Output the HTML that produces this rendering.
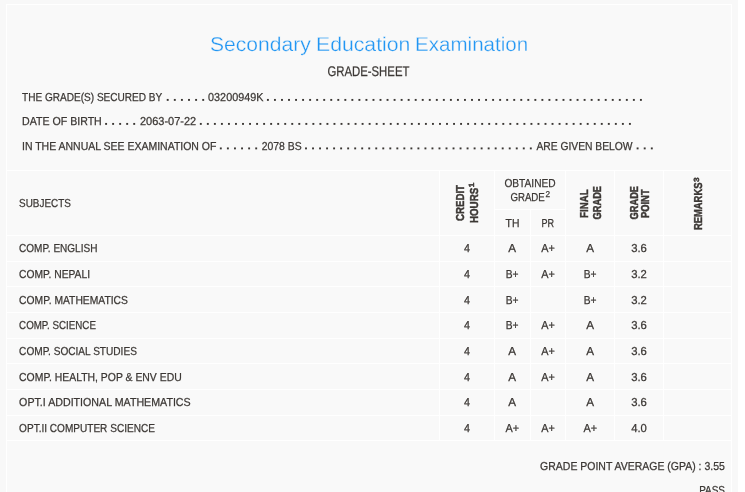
<!DOCTYPE html>
<html lang="en">
<head>
<meta charset="utf-8">
<title>Secondary Education Examination - Grade-Sheet</title>
<style>
html,body{margin:0;padding:0;background:#ffffff;overflow:hidden;}
body{width:745px;height:492px;font-family:'Liberation Sans', sans-serif;}
svg{display:block;font-family:"Liberation Sans",sans-serif;will-change:transform;opacity:0.999;}
svg text{font-family:"Liberation Sans",sans-serif;stroke:#3b3734;stroke-width:0.25px;}
svg g text{stroke-width:0.45px;}
svg text.t{stroke:#f9f9f9;stroke-width:0.3px;}
</style>
</head>
<body>
<svg width="745" height="492" viewBox="0 0 745 492" shape-rendering="crispEdges" text-rendering="geometricPrecision">
<rect x="0" y="0" width="745" height="492" fill="#ffffff"/>
<rect x="0" y="0" width="738" height="492" fill="#f8f8f8"/>
<rect x="6" y="4" width="726" height="488" fill="#f9f9f9"/>
<rect x="6" y="4" width="726" height="1" fill="#ffffff"/>
<rect x="6" y="4" width="1" height="488" fill="#ffffff"/>
<rect x="731" y="4" width="1" height="488" fill="#ffffff"/>
<text x="210" y="50.6" font-size="20" fill="#2196f3" text-anchor="start" font-weight="normal" textLength="100.8" lengthAdjust="spacingAndGlyphs" class="t">Secondary</text>
<text x="316" y="50.6" font-size="20" fill="#2196f3" text-anchor="start" font-weight="normal" textLength="94.4" lengthAdjust="spacingAndGlyphs" class="t">Education</text>
<text x="415" y="50.6" font-size="20" fill="#2196f3" text-anchor="start" font-weight="normal" textLength="113.2" lengthAdjust="spacingAndGlyphs" class="t">Examination</text>
<text x="327.4" y="76" font-size="14" fill="#3b3734" text-anchor="start" font-weight="normal" textLength="82" lengthAdjust="spacingAndGlyphs">GRADE-SHEET</text>
<text x="22" y="101.0" font-size="11.5" fill="#3b3734" text-anchor="start" font-weight="normal" textLength="140.3" lengthAdjust="spacingAndGlyphs">THE GRADE(S) SECURED BY</text>
<rect x="166.75" y="98.95" width="1.9" height="1.9" fill="#3b3734" shape-rendering="geometricPrecision"/>
<rect x="173.85" y="98.95" width="1.9" height="1.9" fill="#3b3734" shape-rendering="geometricPrecision"/>
<rect x="180.95" y="98.95" width="1.9" height="1.9" fill="#3b3734" shape-rendering="geometricPrecision"/>
<rect x="188.05" y="98.95" width="1.9" height="1.9" fill="#3b3734" shape-rendering="geometricPrecision"/>
<rect x="195.15" y="98.95" width="1.9" height="1.9" fill="#3b3734" shape-rendering="geometricPrecision"/>
<rect x="202.25" y="98.95" width="1.9" height="1.9" fill="#3b3734" shape-rendering="geometricPrecision"/>
<text x="208.1" y="101.0" font-size="11.5" fill="#3b3734" text-anchor="start" font-weight="normal" textLength="55.3" lengthAdjust="spacingAndGlyphs">03200949K</text>
<rect x="266.95" y="98.95" width="1.9" height="1.9" fill="#3b3734" shape-rendering="geometricPrecision"/>
<rect x="273.99" y="98.95" width="1.9" height="1.9" fill="#3b3734" shape-rendering="geometricPrecision"/>
<rect x="281.03" y="98.95" width="1.9" height="1.9" fill="#3b3734" shape-rendering="geometricPrecision"/>
<rect x="288.06" y="98.95" width="1.9" height="1.9" fill="#3b3734" shape-rendering="geometricPrecision"/>
<rect x="295.10" y="98.95" width="1.9" height="1.9" fill="#3b3734" shape-rendering="geometricPrecision"/>
<rect x="302.14" y="98.95" width="1.9" height="1.9" fill="#3b3734" shape-rendering="geometricPrecision"/>
<rect x="309.18" y="98.95" width="1.9" height="1.9" fill="#3b3734" shape-rendering="geometricPrecision"/>
<rect x="316.21" y="98.95" width="1.9" height="1.9" fill="#3b3734" shape-rendering="geometricPrecision"/>
<rect x="323.25" y="98.95" width="1.9" height="1.9" fill="#3b3734" shape-rendering="geometricPrecision"/>
<rect x="330.29" y="98.95" width="1.9" height="1.9" fill="#3b3734" shape-rendering="geometricPrecision"/>
<rect x="337.33" y="98.95" width="1.9" height="1.9" fill="#3b3734" shape-rendering="geometricPrecision"/>
<rect x="344.37" y="98.95" width="1.9" height="1.9" fill="#3b3734" shape-rendering="geometricPrecision"/>
<rect x="351.40" y="98.95" width="1.9" height="1.9" fill="#3b3734" shape-rendering="geometricPrecision"/>
<rect x="358.44" y="98.95" width="1.9" height="1.9" fill="#3b3734" shape-rendering="geometricPrecision"/>
<rect x="365.48" y="98.95" width="1.9" height="1.9" fill="#3b3734" shape-rendering="geometricPrecision"/>
<rect x="372.52" y="98.95" width="1.9" height="1.9" fill="#3b3734" shape-rendering="geometricPrecision"/>
<rect x="379.55" y="98.95" width="1.9" height="1.9" fill="#3b3734" shape-rendering="geometricPrecision"/>
<rect x="386.59" y="98.95" width="1.9" height="1.9" fill="#3b3734" shape-rendering="geometricPrecision"/>
<rect x="393.63" y="98.95" width="1.9" height="1.9" fill="#3b3734" shape-rendering="geometricPrecision"/>
<rect x="400.67" y="98.95" width="1.9" height="1.9" fill="#3b3734" shape-rendering="geometricPrecision"/>
<rect x="407.70" y="98.95" width="1.9" height="1.9" fill="#3b3734" shape-rendering="geometricPrecision"/>
<rect x="414.74" y="98.95" width="1.9" height="1.9" fill="#3b3734" shape-rendering="geometricPrecision"/>
<rect x="421.78" y="98.95" width="1.9" height="1.9" fill="#3b3734" shape-rendering="geometricPrecision"/>
<rect x="428.82" y="98.95" width="1.9" height="1.9" fill="#3b3734" shape-rendering="geometricPrecision"/>
<rect x="435.86" y="98.95" width="1.9" height="1.9" fill="#3b3734" shape-rendering="geometricPrecision"/>
<rect x="442.89" y="98.95" width="1.9" height="1.9" fill="#3b3734" shape-rendering="geometricPrecision"/>
<rect x="449.93" y="98.95" width="1.9" height="1.9" fill="#3b3734" shape-rendering="geometricPrecision"/>
<rect x="456.97" y="98.95" width="1.9" height="1.9" fill="#3b3734" shape-rendering="geometricPrecision"/>
<rect x="464.01" y="98.95" width="1.9" height="1.9" fill="#3b3734" shape-rendering="geometricPrecision"/>
<rect x="471.04" y="98.95" width="1.9" height="1.9" fill="#3b3734" shape-rendering="geometricPrecision"/>
<rect x="478.08" y="98.95" width="1.9" height="1.9" fill="#3b3734" shape-rendering="geometricPrecision"/>
<rect x="485.12" y="98.95" width="1.9" height="1.9" fill="#3b3734" shape-rendering="geometricPrecision"/>
<rect x="492.16" y="98.95" width="1.9" height="1.9" fill="#3b3734" shape-rendering="geometricPrecision"/>
<rect x="499.20" y="98.95" width="1.9" height="1.9" fill="#3b3734" shape-rendering="geometricPrecision"/>
<rect x="506.23" y="98.95" width="1.9" height="1.9" fill="#3b3734" shape-rendering="geometricPrecision"/>
<rect x="513.27" y="98.95" width="1.9" height="1.9" fill="#3b3734" shape-rendering="geometricPrecision"/>
<rect x="520.31" y="98.95" width="1.9" height="1.9" fill="#3b3734" shape-rendering="geometricPrecision"/>
<rect x="527.35" y="98.95" width="1.9" height="1.9" fill="#3b3734" shape-rendering="geometricPrecision"/>
<rect x="534.38" y="98.95" width="1.9" height="1.9" fill="#3b3734" shape-rendering="geometricPrecision"/>
<rect x="541.42" y="98.95" width="1.9" height="1.9" fill="#3b3734" shape-rendering="geometricPrecision"/>
<rect x="548.46" y="98.95" width="1.9" height="1.9" fill="#3b3734" shape-rendering="geometricPrecision"/>
<rect x="555.50" y="98.95" width="1.9" height="1.9" fill="#3b3734" shape-rendering="geometricPrecision"/>
<rect x="562.53" y="98.95" width="1.9" height="1.9" fill="#3b3734" shape-rendering="geometricPrecision"/>
<rect x="569.57" y="98.95" width="1.9" height="1.9" fill="#3b3734" shape-rendering="geometricPrecision"/>
<rect x="576.61" y="98.95" width="1.9" height="1.9" fill="#3b3734" shape-rendering="geometricPrecision"/>
<rect x="583.65" y="98.95" width="1.9" height="1.9" fill="#3b3734" shape-rendering="geometricPrecision"/>
<rect x="590.69" y="98.95" width="1.9" height="1.9" fill="#3b3734" shape-rendering="geometricPrecision"/>
<rect x="597.72" y="98.95" width="1.9" height="1.9" fill="#3b3734" shape-rendering="geometricPrecision"/>
<rect x="604.76" y="98.95" width="1.9" height="1.9" fill="#3b3734" shape-rendering="geometricPrecision"/>
<rect x="611.80" y="98.95" width="1.9" height="1.9" fill="#3b3734" shape-rendering="geometricPrecision"/>
<rect x="618.84" y="98.95" width="1.9" height="1.9" fill="#3b3734" shape-rendering="geometricPrecision"/>
<rect x="625.87" y="98.95" width="1.9" height="1.9" fill="#3b3734" shape-rendering="geometricPrecision"/>
<rect x="632.91" y="98.95" width="1.9" height="1.9" fill="#3b3734" shape-rendering="geometricPrecision"/>
<rect x="639.95" y="98.95" width="1.9" height="1.9" fill="#3b3734" shape-rendering="geometricPrecision"/>
<text x="22" y="125.0" font-size="11.5" fill="#3b3734" text-anchor="start" font-weight="normal" textLength="79.8" lengthAdjust="spacingAndGlyphs">DATE OF BIRTH</text>
<rect x="105.15" y="122.95" width="1.9" height="1.9" fill="#3b3734" shape-rendering="geometricPrecision"/>
<rect x="112.17" y="122.95" width="1.9" height="1.9" fill="#3b3734" shape-rendering="geometricPrecision"/>
<rect x="119.20" y="122.95" width="1.9" height="1.9" fill="#3b3734" shape-rendering="geometricPrecision"/>
<rect x="126.22" y="122.95" width="1.9" height="1.9" fill="#3b3734" shape-rendering="geometricPrecision"/>
<rect x="133.25" y="122.95" width="1.9" height="1.9" fill="#3b3734" shape-rendering="geometricPrecision"/>
<text x="140" y="125.0" font-size="11.5" fill="#3b3734" text-anchor="start" font-weight="normal" textLength="56.2" lengthAdjust="spacingAndGlyphs">2063-07-22</text>
<rect x="199.85" y="122.95" width="1.9" height="1.9" fill="#3b3734" shape-rendering="geometricPrecision"/>
<rect x="206.88" y="122.95" width="1.9" height="1.9" fill="#3b3734" shape-rendering="geometricPrecision"/>
<rect x="213.92" y="122.95" width="1.9" height="1.9" fill="#3b3734" shape-rendering="geometricPrecision"/>
<rect x="220.95" y="122.95" width="1.9" height="1.9" fill="#3b3734" shape-rendering="geometricPrecision"/>
<rect x="227.99" y="122.95" width="1.9" height="1.9" fill="#3b3734" shape-rendering="geometricPrecision"/>
<rect x="235.02" y="122.95" width="1.9" height="1.9" fill="#3b3734" shape-rendering="geometricPrecision"/>
<rect x="242.06" y="122.95" width="1.9" height="1.9" fill="#3b3734" shape-rendering="geometricPrecision"/>
<rect x="249.09" y="122.95" width="1.9" height="1.9" fill="#3b3734" shape-rendering="geometricPrecision"/>
<rect x="256.13" y="122.95" width="1.9" height="1.9" fill="#3b3734" shape-rendering="geometricPrecision"/>
<rect x="263.16" y="122.95" width="1.9" height="1.9" fill="#3b3734" shape-rendering="geometricPrecision"/>
<rect x="270.19" y="122.95" width="1.9" height="1.9" fill="#3b3734" shape-rendering="geometricPrecision"/>
<rect x="277.23" y="122.95" width="1.9" height="1.9" fill="#3b3734" shape-rendering="geometricPrecision"/>
<rect x="284.26" y="122.95" width="1.9" height="1.9" fill="#3b3734" shape-rendering="geometricPrecision"/>
<rect x="291.30" y="122.95" width="1.9" height="1.9" fill="#3b3734" shape-rendering="geometricPrecision"/>
<rect x="298.33" y="122.95" width="1.9" height="1.9" fill="#3b3734" shape-rendering="geometricPrecision"/>
<rect x="305.37" y="122.95" width="1.9" height="1.9" fill="#3b3734" shape-rendering="geometricPrecision"/>
<rect x="312.40" y="122.95" width="1.9" height="1.9" fill="#3b3734" shape-rendering="geometricPrecision"/>
<rect x="319.44" y="122.95" width="1.9" height="1.9" fill="#3b3734" shape-rendering="geometricPrecision"/>
<rect x="326.47" y="122.95" width="1.9" height="1.9" fill="#3b3734" shape-rendering="geometricPrecision"/>
<rect x="333.50" y="122.95" width="1.9" height="1.9" fill="#3b3734" shape-rendering="geometricPrecision"/>
<rect x="340.54" y="122.95" width="1.9" height="1.9" fill="#3b3734" shape-rendering="geometricPrecision"/>
<rect x="347.57" y="122.95" width="1.9" height="1.9" fill="#3b3734" shape-rendering="geometricPrecision"/>
<rect x="354.61" y="122.95" width="1.9" height="1.9" fill="#3b3734" shape-rendering="geometricPrecision"/>
<rect x="361.64" y="122.95" width="1.9" height="1.9" fill="#3b3734" shape-rendering="geometricPrecision"/>
<rect x="368.68" y="122.95" width="1.9" height="1.9" fill="#3b3734" shape-rendering="geometricPrecision"/>
<rect x="375.71" y="122.95" width="1.9" height="1.9" fill="#3b3734" shape-rendering="geometricPrecision"/>
<rect x="382.75" y="122.95" width="1.9" height="1.9" fill="#3b3734" shape-rendering="geometricPrecision"/>
<rect x="389.78" y="122.95" width="1.9" height="1.9" fill="#3b3734" shape-rendering="geometricPrecision"/>
<rect x="396.81" y="122.95" width="1.9" height="1.9" fill="#3b3734" shape-rendering="geometricPrecision"/>
<rect x="403.85" y="122.95" width="1.9" height="1.9" fill="#3b3734" shape-rendering="geometricPrecision"/>
<rect x="410.88" y="122.95" width="1.9" height="1.9" fill="#3b3734" shape-rendering="geometricPrecision"/>
<rect x="417.92" y="122.95" width="1.9" height="1.9" fill="#3b3734" shape-rendering="geometricPrecision"/>
<rect x="424.95" y="122.95" width="1.9" height="1.9" fill="#3b3734" shape-rendering="geometricPrecision"/>
<rect x="431.99" y="122.95" width="1.9" height="1.9" fill="#3b3734" shape-rendering="geometricPrecision"/>
<rect x="439.02" y="122.95" width="1.9" height="1.9" fill="#3b3734" shape-rendering="geometricPrecision"/>
<rect x="446.05" y="122.95" width="1.9" height="1.9" fill="#3b3734" shape-rendering="geometricPrecision"/>
<rect x="453.09" y="122.95" width="1.9" height="1.9" fill="#3b3734" shape-rendering="geometricPrecision"/>
<rect x="460.12" y="122.95" width="1.9" height="1.9" fill="#3b3734" shape-rendering="geometricPrecision"/>
<rect x="467.16" y="122.95" width="1.9" height="1.9" fill="#3b3734" shape-rendering="geometricPrecision"/>
<rect x="474.19" y="122.95" width="1.9" height="1.9" fill="#3b3734" shape-rendering="geometricPrecision"/>
<rect x="481.23" y="122.95" width="1.9" height="1.9" fill="#3b3734" shape-rendering="geometricPrecision"/>
<rect x="488.26" y="122.95" width="1.9" height="1.9" fill="#3b3734" shape-rendering="geometricPrecision"/>
<rect x="495.30" y="122.95" width="1.9" height="1.9" fill="#3b3734" shape-rendering="geometricPrecision"/>
<rect x="502.33" y="122.95" width="1.9" height="1.9" fill="#3b3734" shape-rendering="geometricPrecision"/>
<rect x="509.36" y="122.95" width="1.9" height="1.9" fill="#3b3734" shape-rendering="geometricPrecision"/>
<rect x="516.40" y="122.95" width="1.9" height="1.9" fill="#3b3734" shape-rendering="geometricPrecision"/>
<rect x="523.43" y="122.95" width="1.9" height="1.9" fill="#3b3734" shape-rendering="geometricPrecision"/>
<rect x="530.47" y="122.95" width="1.9" height="1.9" fill="#3b3734" shape-rendering="geometricPrecision"/>
<rect x="537.50" y="122.95" width="1.9" height="1.9" fill="#3b3734" shape-rendering="geometricPrecision"/>
<rect x="544.54" y="122.95" width="1.9" height="1.9" fill="#3b3734" shape-rendering="geometricPrecision"/>
<rect x="551.57" y="122.95" width="1.9" height="1.9" fill="#3b3734" shape-rendering="geometricPrecision"/>
<rect x="558.61" y="122.95" width="1.9" height="1.9" fill="#3b3734" shape-rendering="geometricPrecision"/>
<rect x="565.64" y="122.95" width="1.9" height="1.9" fill="#3b3734" shape-rendering="geometricPrecision"/>
<rect x="572.67" y="122.95" width="1.9" height="1.9" fill="#3b3734" shape-rendering="geometricPrecision"/>
<rect x="579.71" y="122.95" width="1.9" height="1.9" fill="#3b3734" shape-rendering="geometricPrecision"/>
<rect x="586.74" y="122.95" width="1.9" height="1.9" fill="#3b3734" shape-rendering="geometricPrecision"/>
<rect x="593.78" y="122.95" width="1.9" height="1.9" fill="#3b3734" shape-rendering="geometricPrecision"/>
<rect x="600.81" y="122.95" width="1.9" height="1.9" fill="#3b3734" shape-rendering="geometricPrecision"/>
<rect x="607.85" y="122.95" width="1.9" height="1.9" fill="#3b3734" shape-rendering="geometricPrecision"/>
<rect x="614.88" y="122.95" width="1.9" height="1.9" fill="#3b3734" shape-rendering="geometricPrecision"/>
<rect x="621.92" y="122.95" width="1.9" height="1.9" fill="#3b3734" shape-rendering="geometricPrecision"/>
<rect x="628.95" y="122.95" width="1.9" height="1.9" fill="#3b3734" shape-rendering="geometricPrecision"/>
<text x="22" y="149.5" font-size="11.5" fill="#3b3734" text-anchor="start" font-weight="normal" textLength="194.4" lengthAdjust="spacingAndGlyphs">IN THE ANNUAL SEE EXAMINATION OF</text>
<rect x="219.85" y="147.45" width="1.9" height="1.9" fill="#3b3734" shape-rendering="geometricPrecision"/>
<rect x="226.93" y="147.45" width="1.9" height="1.9" fill="#3b3734" shape-rendering="geometricPrecision"/>
<rect x="234.01" y="147.45" width="1.9" height="1.9" fill="#3b3734" shape-rendering="geometricPrecision"/>
<rect x="241.09" y="147.45" width="1.9" height="1.9" fill="#3b3734" shape-rendering="geometricPrecision"/>
<rect x="248.17" y="147.45" width="1.9" height="1.9" fill="#3b3734" shape-rendering="geometricPrecision"/>
<rect x="255.25" y="147.45" width="1.9" height="1.9" fill="#3b3734" shape-rendering="geometricPrecision"/>
<text x="261.7" y="149.5" font-size="11.5" fill="#3b3734" text-anchor="start" font-weight="normal" textLength="39.9" lengthAdjust="spacingAndGlyphs">2078 BS</text>
<rect x="305.05" y="147.45" width="1.9" height="1.9" fill="#3b3734" shape-rendering="geometricPrecision"/>
<rect x="312.07" y="147.45" width="1.9" height="1.9" fill="#3b3734" shape-rendering="geometricPrecision"/>
<rect x="319.10" y="147.45" width="1.9" height="1.9" fill="#3b3734" shape-rendering="geometricPrecision"/>
<rect x="326.12" y="147.45" width="1.9" height="1.9" fill="#3b3734" shape-rendering="geometricPrecision"/>
<rect x="333.15" y="147.45" width="1.9" height="1.9" fill="#3b3734" shape-rendering="geometricPrecision"/>
<rect x="340.18" y="147.45" width="1.9" height="1.9" fill="#3b3734" shape-rendering="geometricPrecision"/>
<rect x="347.20" y="147.45" width="1.9" height="1.9" fill="#3b3734" shape-rendering="geometricPrecision"/>
<rect x="354.23" y="147.45" width="1.9" height="1.9" fill="#3b3734" shape-rendering="geometricPrecision"/>
<rect x="361.25" y="147.45" width="1.9" height="1.9" fill="#3b3734" shape-rendering="geometricPrecision"/>
<rect x="368.27" y="147.45" width="1.9" height="1.9" fill="#3b3734" shape-rendering="geometricPrecision"/>
<rect x="375.30" y="147.45" width="1.9" height="1.9" fill="#3b3734" shape-rendering="geometricPrecision"/>
<rect x="382.32" y="147.45" width="1.9" height="1.9" fill="#3b3734" shape-rendering="geometricPrecision"/>
<rect x="389.35" y="147.45" width="1.9" height="1.9" fill="#3b3734" shape-rendering="geometricPrecision"/>
<rect x="396.38" y="147.45" width="1.9" height="1.9" fill="#3b3734" shape-rendering="geometricPrecision"/>
<rect x="403.40" y="147.45" width="1.9" height="1.9" fill="#3b3734" shape-rendering="geometricPrecision"/>
<rect x="410.43" y="147.45" width="1.9" height="1.9" fill="#3b3734" shape-rendering="geometricPrecision"/>
<rect x="417.45" y="147.45" width="1.9" height="1.9" fill="#3b3734" shape-rendering="geometricPrecision"/>
<rect x="424.47" y="147.45" width="1.9" height="1.9" fill="#3b3734" shape-rendering="geometricPrecision"/>
<rect x="431.50" y="147.45" width="1.9" height="1.9" fill="#3b3734" shape-rendering="geometricPrecision"/>
<rect x="438.52" y="147.45" width="1.9" height="1.9" fill="#3b3734" shape-rendering="geometricPrecision"/>
<rect x="445.55" y="147.45" width="1.9" height="1.9" fill="#3b3734" shape-rendering="geometricPrecision"/>
<rect x="452.57" y="147.45" width="1.9" height="1.9" fill="#3b3734" shape-rendering="geometricPrecision"/>
<rect x="459.60" y="147.45" width="1.9" height="1.9" fill="#3b3734" shape-rendering="geometricPrecision"/>
<rect x="466.62" y="147.45" width="1.9" height="1.9" fill="#3b3734" shape-rendering="geometricPrecision"/>
<rect x="473.65" y="147.45" width="1.9" height="1.9" fill="#3b3734" shape-rendering="geometricPrecision"/>
<rect x="480.68" y="147.45" width="1.9" height="1.9" fill="#3b3734" shape-rendering="geometricPrecision"/>
<rect x="487.70" y="147.45" width="1.9" height="1.9" fill="#3b3734" shape-rendering="geometricPrecision"/>
<rect x="494.72" y="147.45" width="1.9" height="1.9" fill="#3b3734" shape-rendering="geometricPrecision"/>
<rect x="501.75" y="147.45" width="1.9" height="1.9" fill="#3b3734" shape-rendering="geometricPrecision"/>
<rect x="508.77" y="147.45" width="1.9" height="1.9" fill="#3b3734" shape-rendering="geometricPrecision"/>
<rect x="515.80" y="147.45" width="1.9" height="1.9" fill="#3b3734" shape-rendering="geometricPrecision"/>
<rect x="522.82" y="147.45" width="1.9" height="1.9" fill="#3b3734" shape-rendering="geometricPrecision"/>
<rect x="529.85" y="147.45" width="1.9" height="1.9" fill="#3b3734" shape-rendering="geometricPrecision"/>
<text x="536.4" y="149.5" font-size="11.5" fill="#3b3734" text-anchor="start" font-weight="normal" textLength="96.2" lengthAdjust="spacingAndGlyphs">ARE GIVEN BELOW</text>
<rect x="636.65" y="147.45" width="1.9" height="1.9" fill="#3b3734" shape-rendering="geometricPrecision"/>
<rect x="643.75" y="147.45" width="1.9" height="1.9" fill="#3b3734" shape-rendering="geometricPrecision"/>
<rect x="650.85" y="147.45" width="1.9" height="1.9" fill="#3b3734" shape-rendering="geometricPrecision"/>
<rect x="6" y="170" width="726" height="1" fill="#ffffff"/>
<rect x="6" y="235" width="726" height="1" fill="#ffffff"/>
<rect x="6" y="261" width="726" height="1" fill="#ffffff"/>
<rect x="6" y="286" width="726" height="1" fill="#ffffff"/>
<rect x="6" y="312" width="726" height="1" fill="#ffffff"/>
<rect x="6" y="338" width="726" height="1" fill="#ffffff"/>
<rect x="6" y="363" width="726" height="1" fill="#ffffff"/>
<rect x="6" y="389" width="726" height="1" fill="#ffffff"/>
<rect x="6" y="415" width="726" height="1" fill="#ffffff"/>
<rect x="6" y="440" width="726" height="1" fill="#ffffff"/>
<rect x="439" y="170" width="1" height="271" fill="#ffffff"/>
<rect x="494" y="170" width="1" height="271" fill="#ffffff"/>
<rect x="565" y="170" width="1" height="271" fill="#ffffff"/>
<rect x="614" y="170" width="1" height="271" fill="#ffffff"/>
<rect x="663" y="170" width="1" height="271" fill="#ffffff"/>
<rect x="530" y="209" width="1" height="232" fill="#ffffff"/>
<rect x="494" y="209" width="71" height="1" fill="#ffffff"/>
<text x="19.1" y="207.2" font-size="11.5" fill="#3b3734" text-anchor="start" font-weight="normal" textLength="51.8" lengthAdjust="spacingAndGlyphs">SUBJECTS</text>
<text x="530" y="186.8" font-size="11.5" fill="#3b3734" text-anchor="middle" font-weight="normal" textLength="51.2" lengthAdjust="spacingAndGlyphs">OBTAINED</text>
<text x="510.4" y="201" font-size="11.5" fill="#3b3734" text-anchor="start" font-weight="normal" textLength="34.4" lengthAdjust="spacingAndGlyphs">GRADE</text>
<text x="545.6" y="197.3" font-size="8.5" fill="#3b3734" text-anchor="start" font-weight="normal" textLength="4.6" lengthAdjust="spacingAndGlyphs">2</text>
<text x="512.5" y="226.6" font-size="11.5" fill="#3b3734" text-anchor="middle" font-weight="normal" textLength="13.8" lengthAdjust="spacingAndGlyphs">TH</text>
<text x="547.7" y="226.6" font-size="11.5" fill="#3b3734" text-anchor="middle" font-weight="normal" textLength="12.6" lengthAdjust="spacingAndGlyphs">PR</text>
<g transform="translate(464.4,221) rotate(-90)">
<text x="0" y="0" font-size="11.5" font-weight="bold" fill="#3b3734" textLength="36.00" lengthAdjust="spacingAndGlyphs">CREDIT</text>
</g>
<g transform="translate(478.4,223) rotate(-90)">
<text x="0" y="0" font-size="11.5" font-weight="bold" fill="#3b3734" textLength="35.20" lengthAdjust="spacingAndGlyphs">HOURS</text>
<text x="35.80" y="-4.6" font-size="7.5" font-weight="bold" fill="#3b3734" textLength="4.6" lengthAdjust="spacingAndGlyphs">1</text>
</g>
<g transform="translate(588,218) rotate(-90)">
<text x="0" y="0" font-size="11.5" font-weight="bold" fill="#3b3734" textLength="28.60" lengthAdjust="spacingAndGlyphs">FINAL</text>
</g>
<g transform="translate(600.6,219.4) rotate(-90)">
<text x="0" y="0" font-size="11.5" font-weight="bold" fill="#3b3734" textLength="33.40" lengthAdjust="spacingAndGlyphs">GRADE</text>
</g>
<g transform="translate(637.6,219.4) rotate(-90)">
<text x="0" y="0" font-size="11.5" font-weight="bold" fill="#3b3734" textLength="33.40" lengthAdjust="spacingAndGlyphs">GRADE</text>
</g>
<g transform="translate(649.4,218) rotate(-90)">
<text x="0" y="0" font-size="11.5" font-weight="bold" fill="#3b3734" textLength="28.60" lengthAdjust="spacingAndGlyphs">POINT</text>
</g>
<g transform="translate(702.4,230) rotate(-90)">
<text x="0" y="0" font-size="11.5" font-weight="bold" fill="#3b3734" textLength="47.40" lengthAdjust="spacingAndGlyphs">REMARKS</text>
<text x="48.00" y="-3.3" font-size="7.5" font-weight="bold" fill="#3b3734" textLength="4.6" lengthAdjust="spacingAndGlyphs">3</text>
</g>
<text x="19.1" y="251.9" font-size="11.5" fill="#3b3734" text-anchor="start" font-weight="normal" textLength="78.3" lengthAdjust="spacingAndGlyphs">COMP. ENGLISH</text>
<text x="467" y="251.9" font-size="11.5" fill="#3b3734" text-anchor="middle" font-weight="normal" textLength="6" lengthAdjust="spacingAndGlyphs">4</text>
<text x="512.2" y="251.9" font-size="11.5" fill="#3b3734" text-anchor="middle" font-weight="normal" textLength="7.8" lengthAdjust="spacingAndGlyphs">A</text>
<text x="548" y="251.9" font-size="11.5" fill="#3b3734" text-anchor="middle" font-weight="normal" textLength="13.6" lengthAdjust="spacingAndGlyphs">A+</text>
<text x="590.2" y="251.9" font-size="11.5" fill="#3b3734" text-anchor="middle" font-weight="normal" textLength="7.8" lengthAdjust="spacingAndGlyphs">A</text>
<text x="639" y="251.9" font-size="11.5" fill="#3b3734" text-anchor="middle" font-weight="normal" textLength="15.7" lengthAdjust="spacingAndGlyphs">3.6</text>
<text x="19.1" y="277.9" font-size="11.5" fill="#3b3734" text-anchor="start" font-weight="normal" textLength="70.9" lengthAdjust="spacingAndGlyphs">COMP. NEPALI</text>
<text x="467" y="277.9" font-size="11.5" fill="#3b3734" text-anchor="middle" font-weight="normal" textLength="6" lengthAdjust="spacingAndGlyphs">4</text>
<text x="512.2" y="277.9" font-size="11.5" fill="#3b3734" text-anchor="middle" font-weight="normal" textLength="12.8" lengthAdjust="spacingAndGlyphs">B+</text>
<text x="548" y="277.9" font-size="11.5" fill="#3b3734" text-anchor="middle" font-weight="normal" textLength="13.6" lengthAdjust="spacingAndGlyphs">A+</text>
<text x="590.2" y="277.9" font-size="11.5" fill="#3b3734" text-anchor="middle" font-weight="normal" textLength="12.8" lengthAdjust="spacingAndGlyphs">B+</text>
<text x="639" y="277.9" font-size="11.5" fill="#3b3734" text-anchor="middle" font-weight="normal" textLength="15.7" lengthAdjust="spacingAndGlyphs">3.2</text>
<text x="19.1" y="303.9" font-size="11.5" fill="#3b3734" text-anchor="start" font-weight="normal" textLength="108.8" lengthAdjust="spacingAndGlyphs">COMP. MATHEMATICS</text>
<text x="467" y="303.9" font-size="11.5" fill="#3b3734" text-anchor="middle" font-weight="normal" textLength="6" lengthAdjust="spacingAndGlyphs">4</text>
<text x="512.2" y="303.9" font-size="11.5" fill="#3b3734" text-anchor="middle" font-weight="normal" textLength="12.8" lengthAdjust="spacingAndGlyphs">B+</text>
<text x="590.2" y="303.9" font-size="11.5" fill="#3b3734" text-anchor="middle" font-weight="normal" textLength="12.8" lengthAdjust="spacingAndGlyphs">B+</text>
<text x="639" y="303.9" font-size="11.5" fill="#3b3734" text-anchor="middle" font-weight="normal" textLength="15.7" lengthAdjust="spacingAndGlyphs">3.2</text>
<text x="19.1" y="328.9" font-size="11.5" fill="#3b3734" text-anchor="start" font-weight="normal" textLength="76.8" lengthAdjust="spacingAndGlyphs">COMP. SCIENCE</text>
<text x="467" y="328.9" font-size="11.5" fill="#3b3734" text-anchor="middle" font-weight="normal" textLength="6" lengthAdjust="spacingAndGlyphs">4</text>
<text x="512.2" y="328.9" font-size="11.5" fill="#3b3734" text-anchor="middle" font-weight="normal" textLength="12.8" lengthAdjust="spacingAndGlyphs">B+</text>
<text x="548" y="328.9" font-size="11.5" fill="#3b3734" text-anchor="middle" font-weight="normal" textLength="13.6" lengthAdjust="spacingAndGlyphs">A+</text>
<text x="590.2" y="328.9" font-size="11.5" fill="#3b3734" text-anchor="middle" font-weight="normal" textLength="7.8" lengthAdjust="spacingAndGlyphs">A</text>
<text x="639" y="328.9" font-size="11.5" fill="#3b3734" text-anchor="middle" font-weight="normal" textLength="15.7" lengthAdjust="spacingAndGlyphs">3.6</text>
<text x="19.1" y="354.9" font-size="11.5" fill="#3b3734" text-anchor="start" font-weight="normal" textLength="117.8" lengthAdjust="spacingAndGlyphs">COMP. SOCIAL STUDIES</text>
<text x="467" y="354.9" font-size="11.5" fill="#3b3734" text-anchor="middle" font-weight="normal" textLength="6" lengthAdjust="spacingAndGlyphs">4</text>
<text x="512.2" y="354.9" font-size="11.5" fill="#3b3734" text-anchor="middle" font-weight="normal" textLength="7.8" lengthAdjust="spacingAndGlyphs">A</text>
<text x="548" y="354.9" font-size="11.5" fill="#3b3734" text-anchor="middle" font-weight="normal" textLength="13.6" lengthAdjust="spacingAndGlyphs">A+</text>
<text x="590.2" y="354.9" font-size="11.5" fill="#3b3734" text-anchor="middle" font-weight="normal" textLength="7.8" lengthAdjust="spacingAndGlyphs">A</text>
<text x="639" y="354.9" font-size="11.5" fill="#3b3734" text-anchor="middle" font-weight="normal" textLength="15.7" lengthAdjust="spacingAndGlyphs">3.6</text>
<text x="19.1" y="380.9" font-size="11.5" fill="#3b3734" text-anchor="start" font-weight="normal" textLength="162.6" lengthAdjust="spacingAndGlyphs">COMP. HEALTH, POP &amp; ENV EDU</text>
<text x="467" y="380.9" font-size="11.5" fill="#3b3734" text-anchor="middle" font-weight="normal" textLength="6" lengthAdjust="spacingAndGlyphs">4</text>
<text x="512.2" y="380.9" font-size="11.5" fill="#3b3734" text-anchor="middle" font-weight="normal" textLength="7.8" lengthAdjust="spacingAndGlyphs">A</text>
<text x="548" y="380.9" font-size="11.5" fill="#3b3734" text-anchor="middle" font-weight="normal" textLength="13.6" lengthAdjust="spacingAndGlyphs">A+</text>
<text x="590.2" y="380.9" font-size="11.5" fill="#3b3734" text-anchor="middle" font-weight="normal" textLength="7.8" lengthAdjust="spacingAndGlyphs">A</text>
<text x="639" y="380.9" font-size="11.5" fill="#3b3734" text-anchor="middle" font-weight="normal" textLength="15.7" lengthAdjust="spacingAndGlyphs">3.6</text>
<text x="19.1" y="405.9" font-size="11.5" fill="#3b3734" text-anchor="start" font-weight="normal" textLength="171.6" lengthAdjust="spacingAndGlyphs">OPT.I ADDITIONAL MATHEMATICS</text>
<text x="467" y="405.9" font-size="11.5" fill="#3b3734" text-anchor="middle" font-weight="normal" textLength="6" lengthAdjust="spacingAndGlyphs">4</text>
<text x="512.2" y="405.9" font-size="11.5" fill="#3b3734" text-anchor="middle" font-weight="normal" textLength="7.8" lengthAdjust="spacingAndGlyphs">A</text>
<text x="590.2" y="405.9" font-size="11.5" fill="#3b3734" text-anchor="middle" font-weight="normal" textLength="7.8" lengthAdjust="spacingAndGlyphs">A</text>
<text x="639" y="405.9" font-size="11.5" fill="#3b3734" text-anchor="middle" font-weight="normal" textLength="15.7" lengthAdjust="spacingAndGlyphs">3.6</text>
<text x="19.1" y="431.9" font-size="11.5" fill="#3b3734" text-anchor="start" font-weight="normal" textLength="135.8" lengthAdjust="spacingAndGlyphs">OPT.II COMPUTER SCIENCE</text>
<text x="467" y="431.9" font-size="11.5" fill="#3b3734" text-anchor="middle" font-weight="normal" textLength="6" lengthAdjust="spacingAndGlyphs">4</text>
<text x="512.2" y="431.9" font-size="11.5" fill="#3b3734" text-anchor="middle" font-weight="normal" textLength="13.6" lengthAdjust="spacingAndGlyphs">A+</text>
<text x="548" y="431.9" font-size="11.5" fill="#3b3734" text-anchor="middle" font-weight="normal" textLength="13.6" lengthAdjust="spacingAndGlyphs">A+</text>
<text x="590.2" y="431.9" font-size="11.5" fill="#3b3734" text-anchor="middle" font-weight="normal" textLength="13.6" lengthAdjust="spacingAndGlyphs">A+</text>
<text x="639" y="431.9" font-size="11.5" fill="#3b3734" text-anchor="middle" font-weight="normal" textLength="15.7" lengthAdjust="spacingAndGlyphs">4.0</text>
<text x="540.1" y="470.1" font-size="11.5" fill="#3b3734" text-anchor="start" font-weight="normal" textLength="184.7" lengthAdjust="spacingAndGlyphs">GRADE POINT AVERAGE (GPA) : 3.55</text>
<text x="699.2" y="494.2" font-size="11.5" fill="#3b3734" text-anchor="start" font-weight="normal" textLength="25.8" lengthAdjust="spacingAndGlyphs">PASS</text>
</svg>
</body>
</html>
